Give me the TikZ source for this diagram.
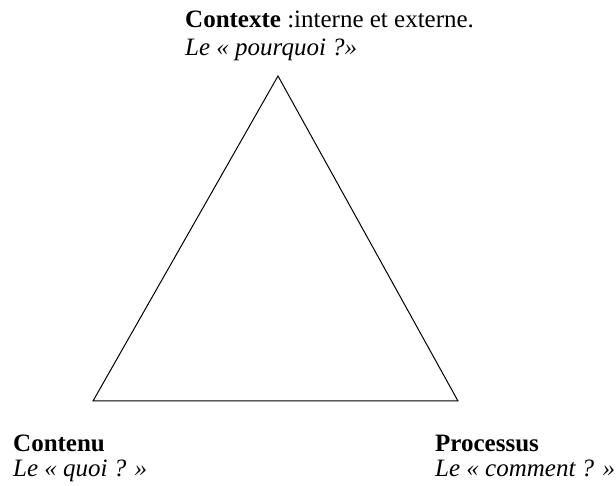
\documentclass[tikz,border=0pt]{standalone}
\usepackage{fontspec}
\setmainfont{Liberation Serif}
\begin{document}
\begin{tikzpicture}[x=1pt,y=1pt,
  lbl/.style={anchor=base west,inner sep=0pt,font=\fontsize{25}{29}\selectfont},
  edge/.style={line width=1pt,line join=miter}]
\useasboundingbox (0,0) rectangle (616,486);
\coordinate (top) at (278,410);
\coordinate (bl) at (93,85);
\coordinate (br) at (458,85);
\draw[edge] (top) -- (bl) -- (br) -- cycle;
\node[lbl] (ctx1) at (185,458) {\textbf{Contexte} :interne et externe.};
\node[lbl] (ctx2) at (185,430) {\textit{Le « pourquoi ?»}};
\node[lbl] (cnt1) at (13,34) {\textbf{Contenu}};
\node[lbl] (cnt2) at (13,9) {\textit{Le « quoi ? »}};
\node[lbl] (pro1) at (435,34) {\textbf{Processus}};
\node[lbl] (pro2) at (435,9) {\textit{Le « comment ? »}};
\end{tikzpicture}
\end{document}
